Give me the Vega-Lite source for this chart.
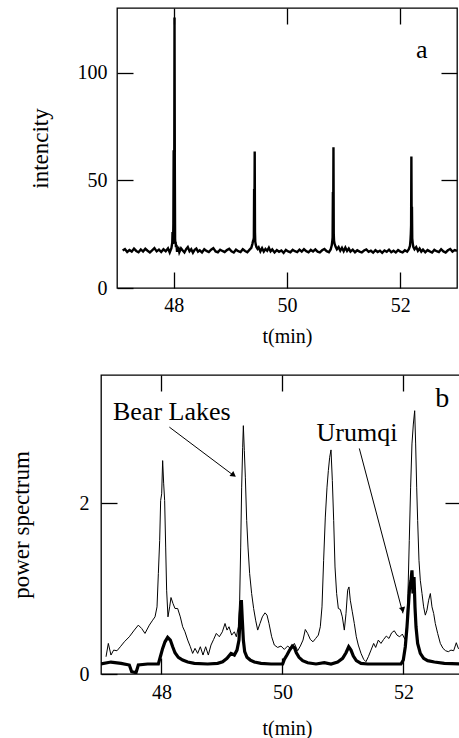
{
  "$schema": "https://vega.github.io/schema/vega-lite/v6.json",
  "padding": {"left": 9, "top": 6, "right": 0, "bottom": 0},
  "background": "white",
  "config": {
    "view": {"stroke": null},
    "font": "Liberation Serif",
    "axis": {
      "grid": false, "domain": false, "ticks": true, "tickColor": "black", "tickSize": 16, "offset": -16, "tickWidth": 1.3, "tickOpacity": 1,
      "labelFont": "Liberation Serif", "labelFontSize": 20, "labelColor": "black",
      "titleFont": "Liberation Serif", "titleFontWeight": "normal", "titleColor": "black", "titleFontSize": 20
    }
  },
  "datasets": {
    "a": [
      {"t":47.10,"v":17.4},{"t":47.14,"v":18.1},{"t":47.18,"v":16.7},{"t":47.22,"v":17.6},{"t":47.26,"v":16.9},{"t":47.30,"v":18.3},{"t":47.34,"v":17.2},{"t":47.38,"v":16.6},{"t":47.42,"v":17.9},{"t":47.46,"v":16.9},{"t":47.50,"v":18.2},{"t":47.54,"v":17.3},{"t":47.58,"v":16.5},{"t":47.62,"v":17.5},{"t":47.66,"v":18.5},{"t":47.70,"v":17.0},{"t":47.74,"v":17.8},{"t":47.78,"v":16.7},{"t":47.82,"v":18.0},{"t":47.86,"v":17.1},{"t":47.90,"v":18.4},{"t":47.93,"v":16.5},{"t":47.96,"v":18.5},{"t":47.975,"v":21.0},{"t":47.98,"v":26.0},{"t":47.985,"v":20.5},{"t":47.99,"v":22.0},{"t":47.995,"v":30.0},{"t":48.0,"v":64.0},{"t":48.005,"v":33.0},{"t":48.01,"v":46.0},{"t":48.015,"v":125.6},{"t":48.02,"v":58.0},{"t":48.025,"v":23.0},{"t":48.03,"v":20.5},{"t":48.035,"v":21.5},{"t":48.04,"v":19.0},{"t":48.05,"v":20.0},{"t":48.06,"v":16.8},{"t":48.08,"v":19.2},{"t":48.10,"v":16.6},{"t":48.13,"v":18.4},{"t":48.16,"v":17.4},{"t":48.19,"v":16.5},{"t":48.22,"v":18.0},{"t":48.25,"v":19.0},{"t":48.28,"v":17.1},{"t":48.31,"v":18.0},{"t":48.34,"v":16.4},{"t":48.37,"v":17.7},{"t":48.40,"v":18.3},{"t":48.43,"v":16.9},{"t":48.46,"v":17.5},{"t":48.50,"v":16.5},{"t":48.54,"v":18.0},{"t":48.58,"v":17.2},{"t":48.62,"v":16.7},{"t":48.66,"v":17.8},{"t":48.70,"v":18.5},{"t":48.74,"v":17.0},{"t":48.78,"v":16.6},{"t":48.82,"v":17.8},{"t":48.86,"v":17.2},{"t":48.90,"v":16.7},{"t":48.94,"v":17.6},{"t":48.98,"v":18.2},{"t":49.02,"v":17.0},{"t":49.06,"v":16.5},{"t":49.10,"v":17.8},{"t":49.14,"v":17.1},{"t":49.18,"v":16.7},{"t":49.22,"v":18.0},{"t":49.26,"v":17.2},{"t":49.30,"v":16.6},{"t":49.34,"v":17.8},{"t":49.37,"v":18.6},{"t":49.39,"v":20.5},{"t":49.40,"v":21.8},{"t":49.41,"v":22.5},{"t":49.415,"v":23.5},{"t":49.42,"v":46.0},{"t":49.425,"v":30.0},{"t":49.43,"v":63.4},{"t":49.435,"v":26.0},{"t":49.44,"v":21.5},{"t":49.45,"v":20.0},{"t":49.46,"v":19.0},{"t":49.48,"v":18.2},{"t":49.50,"v":18.9},{"t":49.53,"v":17.0},{"t":49.56,"v":18.5},{"t":49.59,"v":16.9},{"t":49.62,"v":18.1},{"t":49.65,"v":17.3},{"t":49.68,"v":18.7},{"t":49.71,"v":17.0},{"t":49.74,"v":17.9},{"t":49.78,"v":16.5},{"t":49.82,"v":17.6},{"t":49.86,"v":16.8},{"t":49.90,"v":17.4},{"t":49.94,"v":16.3},{"t":49.98,"v":17.7},{"t":50.02,"v":17.0},{"t":50.06,"v":16.6},{"t":50.10,"v":17.7},{"t":50.14,"v":17.1},{"t":50.18,"v":16.7},{"t":50.22,"v":17.8},{"t":50.26,"v":16.9},{"t":50.30,"v":18.0},{"t":50.34,"v":17.1},{"t":50.38,"v":16.6},{"t":50.42,"v":17.7},{"t":50.46,"v":17.0},{"t":50.50,"v":17.9},{"t":50.54,"v":16.9},{"t":50.58,"v":16.5},{"t":50.62,"v":17.5},{"t":50.66,"v":18.1},{"t":50.70,"v":17.1},{"t":50.74,"v":16.6},{"t":50.77,"v":17.9},{"t":50.79,"v":19.8},{"t":50.80,"v":22.0},{"t":50.805,"v":23.5},{"t":50.81,"v":44.6},{"t":50.815,"v":28.0},{"t":50.82,"v":65.3},{"t":50.825,"v":25.0},{"t":50.83,"v":22.0},{"t":50.84,"v":20.5},{"t":50.86,"v":19.0},{"t":50.88,"v":18.0},{"t":50.91,"v":19.0},{"t":50.94,"v":17.3},{"t":50.97,"v":18.7},{"t":51.00,"v":17.1},{"t":51.03,"v":18.8},{"t":51.06,"v":17.2},{"t":51.09,"v":18.3},{"t":51.12,"v":16.9},{"t":51.16,"v":17.8},{"t":51.20,"v":16.6},{"t":51.24,"v":17.5},{"t":51.28,"v":16.9},{"t":51.32,"v":16.5},{"t":51.36,"v":17.4},{"t":51.40,"v":17.9},{"t":51.44,"v":16.8},{"t":51.48,"v":17.3},{"t":51.52,"v":16.4},{"t":51.56,"v":17.6},{"t":51.60,"v":16.7},{"t":51.64,"v":17.3},{"t":51.68,"v":16.3},{"t":51.72,"v":17.4},{"t":51.76,"v":16.8},{"t":51.80,"v":17.8},{"t":51.84,"v":16.6},{"t":51.88,"v":17.3},{"t":51.92,"v":16.5},{"t":51.96,"v":17.6},{"t":52.00,"v":16.9},{"t":52.04,"v":16.5},{"t":52.08,"v":17.5},{"t":52.12,"v":16.9},{"t":52.15,"v":18.0},{"t":52.17,"v":19.5},{"t":52.18,"v":22.5},{"t":52.185,"v":25.0},{"t":52.19,"v":29.0},{"t":52.195,"v":61.0},{"t":52.20,"v":30.0},{"t":52.205,"v":37.7},{"t":52.21,"v":23.0},{"t":52.22,"v":20.5},{"t":52.23,"v":19.0},{"t":52.25,"v":18.0},{"t":52.28,"v":19.0},{"t":52.31,"v":17.2},{"t":52.34,"v":18.3},{"t":52.37,"v":16.9},{"t":52.40,"v":17.8},{"t":52.44,"v":16.6},{"t":52.48,"v":17.6},{"t":52.52,"v":17.0},{"t":52.56,"v":16.5},{"t":52.60,"v":17.7},{"t":52.64,"v":17.1},{"t":52.68,"v":16.7},{"t":52.72,"v":18.0},{"t":52.76,"v":17.0},{"t":52.80,"v":16.5},{"t":52.84,"v":17.5},{"t":52.88,"v":18.1},{"t":52.92,"v":16.9},{"t":52.96,"v":17.6},{"t":53.00,"v":17.2}
    ],
    "bl": [
      {"t":47.083,"v":0.202},{"t":47.121,"v":0.358},{"t":47.165,"v":0.222},{"t":47.209,"v":0.28},{"t":47.264,"v":0.272},{"t":47.32,"v":0.319},{"t":47.386,"v":0.377},{"t":47.468,"v":0.436},{"t":47.551,"v":0.514},{"t":47.617,"v":0.572},{"t":47.672,"v":0.533},{"t":47.727,"v":0.475},{"t":47.799,"v":0.572},{"t":47.854,"v":0.63},{"t":47.893,"v":0.669},{"t":47.926,"v":0.786},{"t":47.948,"v":1.175},{"t":47.97,"v":1.564},{"t":47.986,"v":2.031},{"t":48.003,"v":2.109},{"t":48.019,"v":2.498},{"t":48.036,"v":2.226},{"t":48.052,"v":2.031},{"t":48.069,"v":1.486},{"t":48.085,"v":0.981},{"t":48.107,"v":0.669},{"t":48.135,"v":0.786},{"t":48.157,"v":0.895},{"t":48.19,"v":0.825},{"t":48.223,"v":0.767},{"t":48.267,"v":0.767},{"t":48.311,"v":0.669},{"t":48.35,"v":0.553},{"t":48.388,"v":0.494},{"t":48.433,"v":0.397},{"t":48.477,"v":0.319},{"t":48.515,"v":0.241},{"t":48.554,"v":0.3},{"t":48.598,"v":0.241},{"t":48.642,"v":0.319},{"t":48.686,"v":0.222},{"t":48.73,"v":0.319},{"t":48.774,"v":0.222},{"t":48.818,"v":0.339},{"t":48.862,"v":0.405},{"t":48.906,"v":0.475},{"t":48.956,"v":0.436},{"t":49.006,"v":0.494},{"t":49.05,"v":0.591},{"t":49.083,"v":0.514},{"t":49.116,"v":0.553},{"t":49.16,"v":0.455},{"t":49.204,"v":0.494},{"t":49.237,"v":0.436},{"t":49.27,"v":0.553},{"t":49.292,"v":0.864},{"t":49.309,"v":1.486},{"t":49.325,"v":2.187},{"t":49.342,"v":2.654},{"t":49.353,"v":2.907},{"t":49.369,"v":2.615},{"t":49.386,"v":2.304},{"t":49.408,"v":1.798},{"t":49.43,"v":1.486},{"t":49.457,"v":1.175},{"t":49.49,"v":0.942},{"t":49.523,"v":0.767},{"t":49.556,"v":0.63},{"t":49.59,"v":0.514},{"t":49.628,"v":0.591},{"t":49.667,"v":0.669},{"t":49.711,"v":0.716},{"t":49.744,"v":0.689},{"t":49.777,"v":0.591},{"t":49.821,"v":0.436},{"t":49.865,"v":0.339},{"t":49.92,"v":0.311},{"t":49.975,"v":0.327},{"t":50.03,"v":0.288},{"t":50.085,"v":0.327},{"t":50.14,"v":0.296},{"t":50.196,"v":0.358},{"t":50.251,"v":0.272},{"t":50.295,"v":0.327},{"t":50.339,"v":0.397},{"t":50.377,"v":0.521},{"t":50.416,"v":0.475},{"t":50.46,"v":0.405},{"t":50.504,"v":0.377},{"t":50.548,"v":0.416},{"t":50.592,"v":0.455},{"t":50.625,"v":0.553},{"t":50.653,"v":0.786},{"t":50.68,"v":1.331},{"t":50.708,"v":1.837},{"t":50.736,"v":2.187},{"t":50.758,"v":2.381},{"t":50.78,"v":2.537},{"t":50.802,"v":2.623},{"t":50.824,"v":2.265},{"t":50.846,"v":1.798},{"t":50.868,"v":1.253},{"t":50.895,"v":0.942},{"t":50.923,"v":0.767},{"t":50.956,"v":0.755},{"t":50.989,"v":0.669},{"t":51.022,"v":0.514},{"t":51.05,"v":0.708},{"t":51.077,"v":0.981},{"t":51.099,"v":1.019},{"t":51.121,"v":0.864},{"t":51.154,"v":0.728},{"t":51.187,"v":0.591},{"t":51.22,"v":0.436},{"t":51.253,"v":0.339},{"t":51.298,"v":0.241},{"t":51.342,"v":0.171},{"t":51.38,"v":0.144},{"t":51.419,"v":0.202},{"t":51.463,"v":0.28},{"t":51.507,"v":0.358},{"t":51.54,"v":0.311},{"t":51.584,"v":0.397},{"t":51.628,"v":0.358},{"t":51.672,"v":0.405},{"t":51.716,"v":0.444},{"t":51.76,"v":0.416},{"t":51.804,"v":0.482},{"t":51.848,"v":0.506},{"t":51.893,"v":0.455},{"t":51.937,"v":0.436},{"t":51.981,"v":0.467},{"t":52.025,"v":0.405},{"t":52.052,"v":0.553},{"t":52.074,"v":0.942},{"t":52.096,"v":1.564},{"t":52.118,"v":2.187},{"t":52.14,"v":2.693},{"t":52.163,"v":2.926},{"t":52.185,"v":3.082},{"t":52.201,"v":2.693},{"t":52.218,"v":2.187},{"t":52.234,"v":1.798},{"t":52.256,"v":1.331},{"t":52.278,"v":1.097},{"t":52.306,"v":0.942},{"t":52.333,"v":0.786},{"t":52.361,"v":0.689},{"t":52.388,"v":0.747},{"t":52.416,"v":0.864},{"t":52.444,"v":0.942},{"t":52.471,"v":0.786},{"t":52.499,"v":0.708},{"t":52.526,"v":0.591},{"t":52.565,"v":0.475},{"t":52.609,"v":0.358},{"t":52.653,"v":0.3},{"t":52.697,"v":0.272},{"t":52.741,"v":0.261},{"t":52.785,"v":0.28},{"t":52.829,"v":0.272},{"t":52.873,"v":0.366},{"t":52.906,"v":0.3},{"t":52.95,"v":0.28},{"t":53.0,"v":0.29},{"t":53.05,"v":0.27}
    ],
    "ur": [
      {"t":47.0,"v":0.117},{"t":47.165,"v":0.14},{"t":47.331,"v":0.125},{"t":47.468,"v":0.105},{"t":47.507,"v":0.027},{"t":47.579,"v":0.016},{"t":47.617,"v":0.105},{"t":47.771,"v":0.117},{"t":47.948,"v":0.117},{"t":47.981,"v":0.202},{"t":48.019,"v":0.3},{"t":48.058,"v":0.377},{"t":48.102,"v":0.428},{"t":48.146,"v":0.397},{"t":48.185,"v":0.319},{"t":48.223,"v":0.249},{"t":48.278,"v":0.195},{"t":48.35,"v":0.163},{"t":48.433,"v":0.14},{"t":48.543,"v":0.125},{"t":48.763,"v":0.117},{"t":48.928,"v":0.125},{"t":49.011,"v":0.144},{"t":49.083,"v":0.183},{"t":49.149,"v":0.241},{"t":49.204,"v":0.222},{"t":49.248,"v":0.28},{"t":49.281,"v":0.397},{"t":49.303,"v":0.708},{"t":49.32,"v":0.864},{"t":49.336,"v":0.63},{"t":49.353,"v":0.397},{"t":49.375,"v":0.261},{"t":49.413,"v":0.195},{"t":49.468,"v":0.163},{"t":49.534,"v":0.14},{"t":49.645,"v":0.125},{"t":49.81,"v":0.117},{"t":50.003,"v":0.117},{"t":50.03,"v":0.171},{"t":50.074,"v":0.222},{"t":50.118,"v":0.28},{"t":50.163,"v":0.327},{"t":50.196,"v":0.311},{"t":50.229,"v":0.249},{"t":50.273,"v":0.195},{"t":50.333,"v":0.156},{"t":50.416,"v":0.132},{"t":50.554,"v":0.117},{"t":50.691,"v":0.132},{"t":50.802,"v":0.117},{"t":50.912,"v":0.14},{"t":50.994,"v":0.183},{"t":51.05,"v":0.249},{"t":51.094,"v":0.319},{"t":51.132,"v":0.28},{"t":51.171,"v":0.21},{"t":51.22,"v":0.156},{"t":51.298,"v":0.125},{"t":51.408,"v":0.117},{"t":51.683,"v":0.117},{"t":51.959,"v":0.117},{"t":51.997,"v":0.163},{"t":52.03,"v":0.319},{"t":52.058,"v":0.553},{"t":52.08,"v":0.786},{"t":52.102,"v":1.019},{"t":52.124,"v":1.097},{"t":52.14,"v":1.214},{"t":52.157,"v":0.942},{"t":52.174,"v":1.136},{"t":52.19,"v":0.786},{"t":52.207,"v":0.553},{"t":52.234,"v":0.358},{"t":52.278,"v":0.241},{"t":52.333,"v":0.183},{"t":52.399,"v":0.156},{"t":52.51,"v":0.14},{"t":52.675,"v":0.125},{"t":52.95,"v":0.117},{"t":53.1,"v":0.117}
    ]
  },
  "bounds": "flush",
  "center": true,
  "spacing": 87,
  "vconcat": [
    {
      "width": 340, "height": 280,
      "view": {"stroke": "black", "strokeWidth": 1.3},
      "layer": [
        {
          "data": {"name": "a"},
          "mark": {"type": "line", "color": "black", "strokeWidth": 2.4},
          "encoding": {
            "x": {"field": "t", "type": "quantitative", "scale": {"domain": [47, 53], "nice": false, "zero": false},
                  "axis": {"values": [48, 50, 52], "title": "t(min)", "labelPadding": 7, "titlePadding": 11}},
            "y": {"field": "v", "type": "quantitative", "scale": {"domain": [0, 130], "nice": false},
                  "axis": {"values": [0, 50, 100], "title": "intencity", "titleFontSize": 23, "labelPadding": 10, "titlePadding": 25}}
          }
        },
        {
          "data": {"values": [{"t": 52.38, "v": 106.9, "label": "a"}]},
          "mark": {"type": "text", "fontSize": 26, "font": "Liberation Serif", "align": "center", "baseline": "alphabetic", "color": "black"},
          "encoding": {
            "x": {"field": "t", "type": "quantitative", "axis": {"orient": "top", "values": [48, 50, 52], "labels": false, "title": null}},
            "y": {"field": "v", "type": "quantitative", "axis": {"orient": "right", "values": [50, 100], "labels": false, "title": null}},
            "text": {"field": "label"}
          }
        }
      ],
      "resolve": {"axis": {"x": "independent", "y": "independent"}}
    },
    {
      "width": 372, "height": 299,
      "view": {"stroke": "black", "strokeWidth": 1.3},
      "layer": [
        {
          "data": {"name": "bl"},
          "mark": {"type": "line", "color": "black", "strokeWidth": 1, "clip": true},
          "encoding": {
            "x": {"field": "t", "type": "quantitative", "scale": {"domain": [47, 53.149], "nice": false, "zero": false},
                  "axis": {"values": [48, 50, 52], "title": "t(min)", "labelPadding": 8, "titlePadding": 16}},
            "y": {"field": "v", "type": "quantitative", "scale": {"domain": [0, 3.5], "nice": false},
                  "axis": {"values": [0, 2], "title": "power spectrum", "titleFontSize": 23, "labelPadding": 12, "titlePadding": 46}}
          }
        },
        {
          "data": {"name": "ur"},
          "mark": {"type": "line", "color": "black", "strokeWidth": 3.2, "clip": true},
          "encoding": {
            "x": {"field": "t", "type": "quantitative", "axis": null},
            "y": {"field": "v", "type": "quantitative", "axis": null}
          }
        },
        {
          "data": {"values": [{"t": 48.13, "v": 2.89, "t2": 49.2, "v2": 2.32}, {"t": 51.27, "v": 2.64, "t2": 51.99, "v2": 0.71}]},
          "mark": {"type": "rule", "color": "black", "strokeWidth": 1},
          "encoding": {
            "x": {"field": "t", "type": "quantitative", "axis": null},
            "y": {"field": "v", "type": "quantitative", "axis": null},
            "x2": {"field": "t2"},
            "y2": {"field": "v2"}
          }
        },
        {
          "data": {"values": [{"t": 49.18, "v": 2.335}]},
          "mark": {"type": "point", "shape": "triangle", "filled": true, "color": "black", "opacity": 1, "size": 40, "angle": 126.6},
          "encoding": {
            "x": {"field": "t", "type": "quantitative", "axis": null},
            "y": {"field": "v", "type": "quantitative", "axis": null}
          }
        },
        {
          "data": {"values": [{"t": 51.983, "v": 0.76}]},
          "mark": {"type": "point", "shape": "triangle", "filled": true, "color": "black", "opacity": 1, "size": 40, "angle": 165.3},
          "encoding": {
            "x": {"field": "t", "type": "quantitative", "axis": null},
            "y": {"field": "v", "type": "quantitative", "axis": null}
          }
        },
        {
          "data": {"values": [{"t": 48.17, "v": 2.97, "label": "Bear Lakes"}, {"t": 51.23, "v": 2.73, "label": "Urumqi"}]},
          "mark": {"type": "text", "fontSize": 26, "font": "Liberation Serif", "align": "center", "baseline": "alphabetic", "color": "black"},
          "encoding": {
            "x": {"field": "t", "type": "quantitative", "axis": {"orient": "top", "values": [48, 50, 52], "labels": false, "title": null}},
            "y": {"field": "v", "type": "quantitative", "axis": {"orient": "right", "values": [2], "labels": false, "title": null, "tickSize": 28, "offset": -28}},
            "text": {"field": "label"}
          }
        },
        {
          "data": {"values": [{"t": 52.64, "v": 3.12, "label": "b"}]},
          "mark": {"type": "text", "fontSize": 28, "font": "Liberation Serif", "align": "center", "baseline": "alphabetic", "color": "black"},
          "encoding": {
            "x": {"field": "t", "type": "quantitative", "axis": null},
            "y": {"field": "v", "type": "quantitative", "axis": null},
            "text": {"field": "label"}
          }
        }
      ],
      "resolve": {"axis": {"x": "independent", "y": "independent"}}
    }
  ]
}
